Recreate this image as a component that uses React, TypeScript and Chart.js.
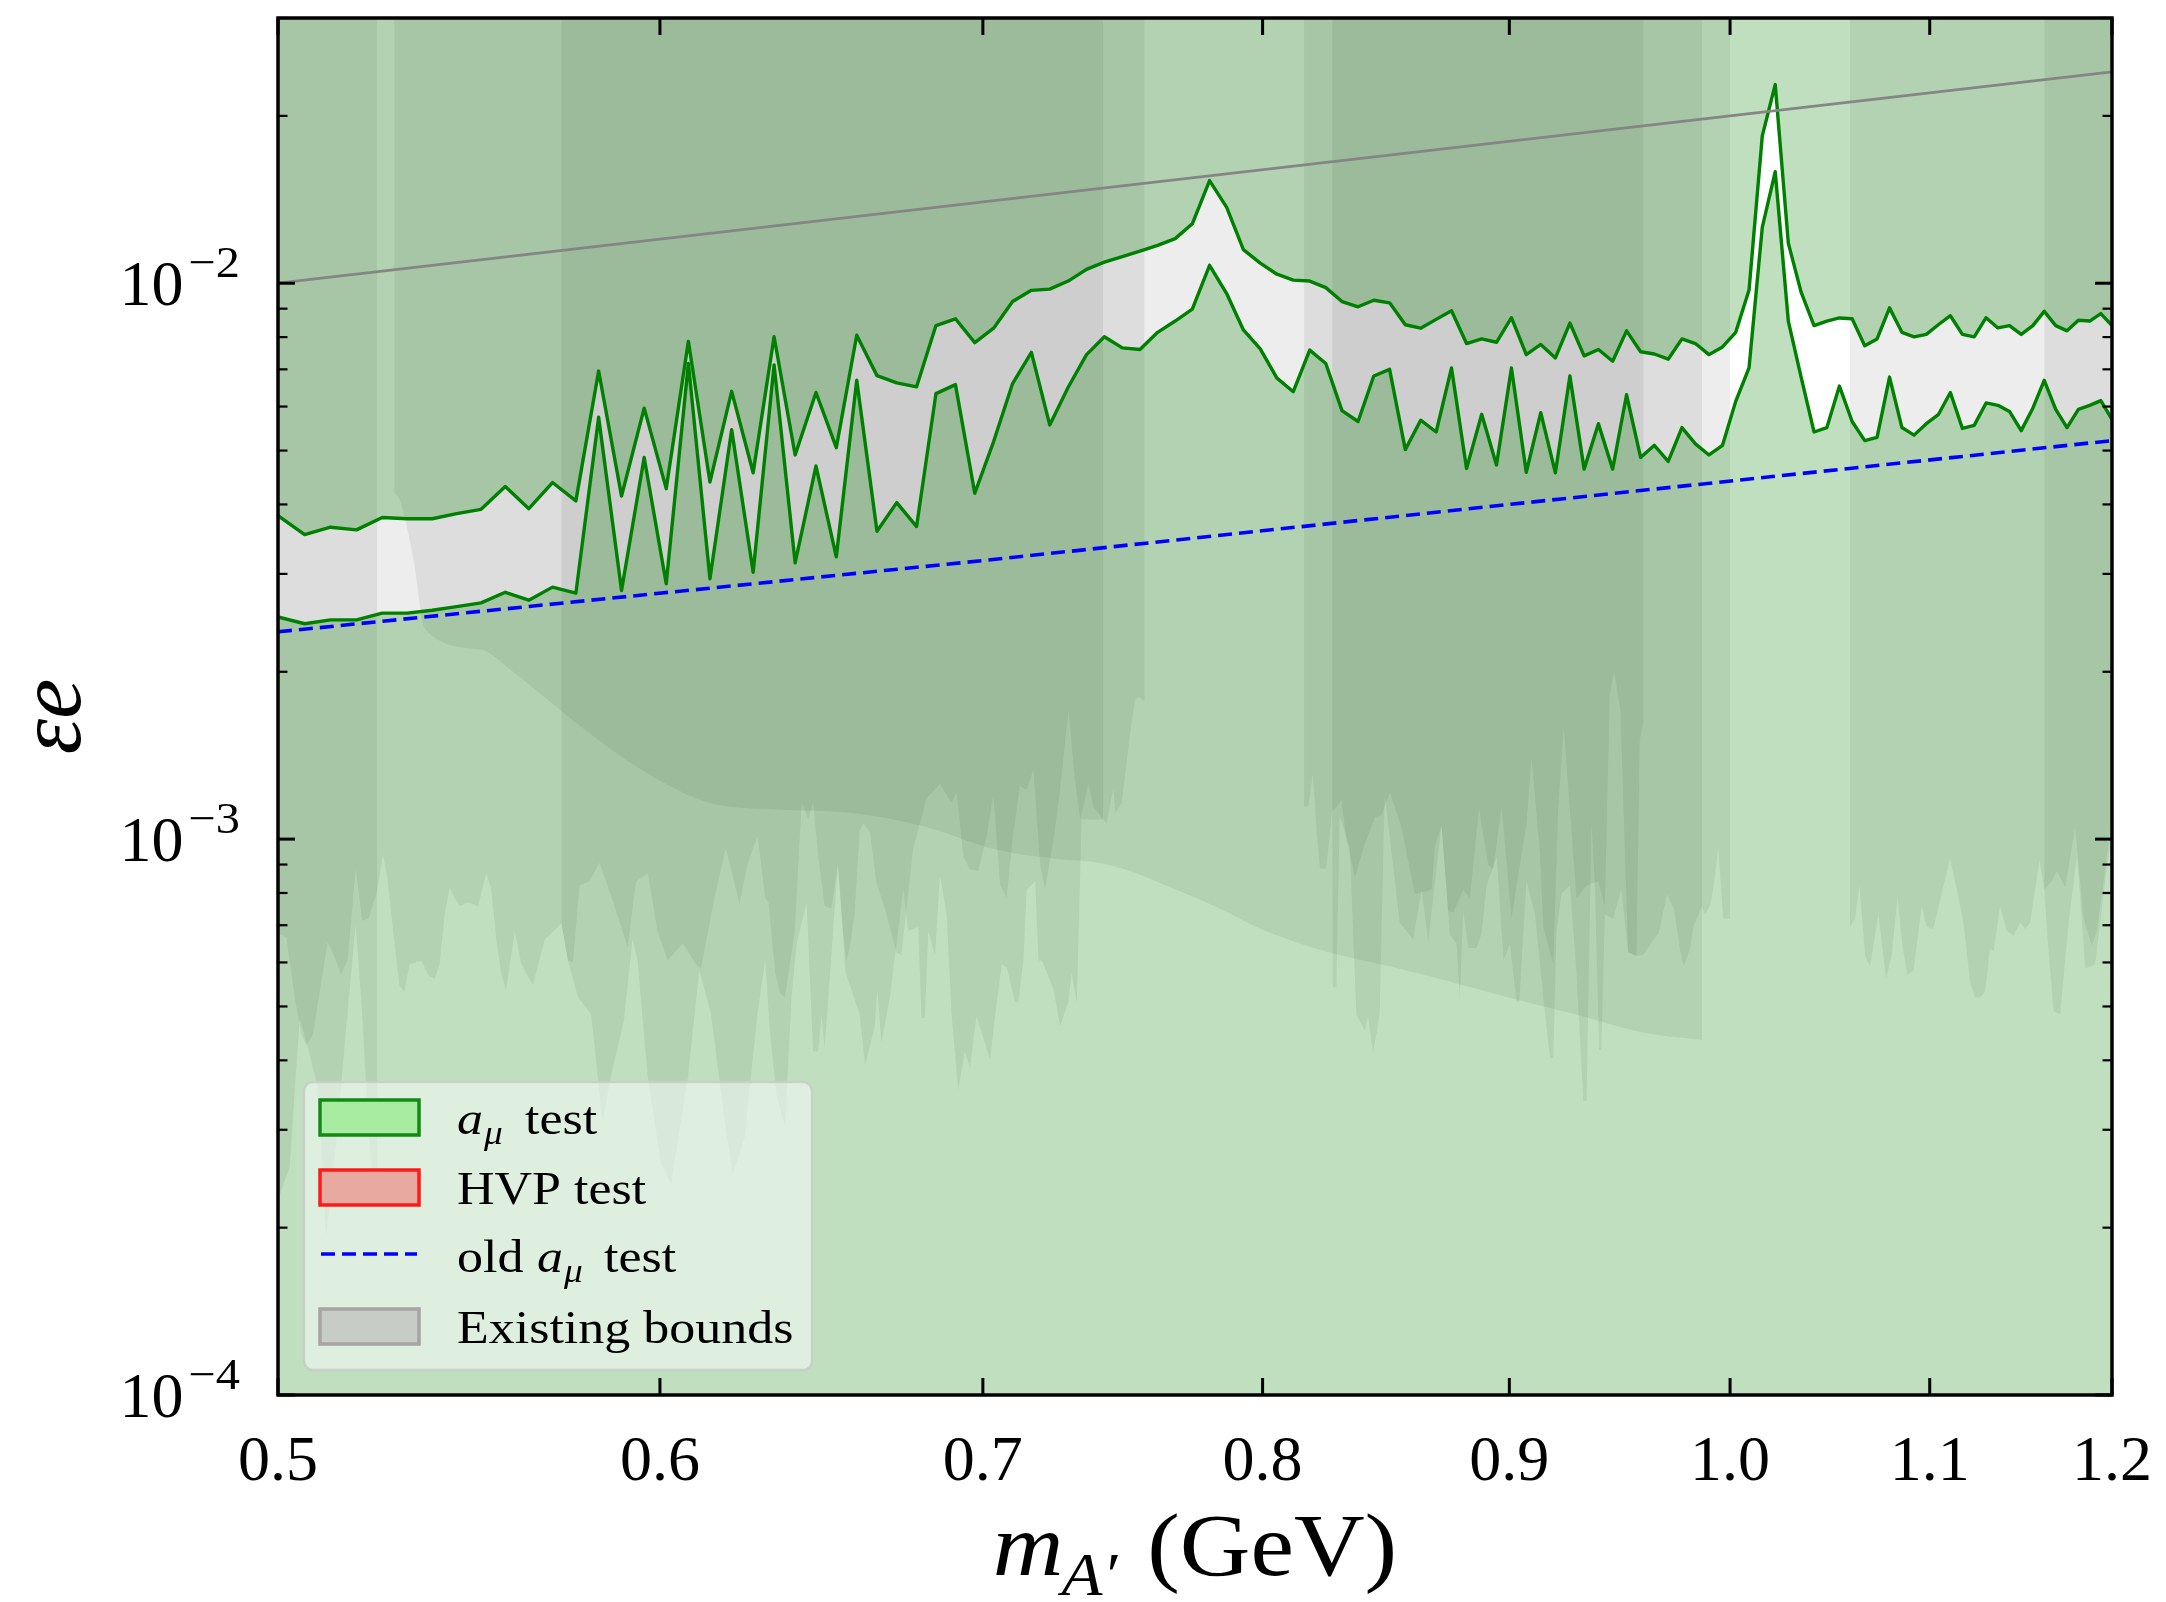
import React, { useEffect, useRef } from "react";
import { Chart, registerables } from "chart.js";

Chart.register(...registerables);

// ---------------- data ----------------
const massGrid = [
  0.5, 0.5064, 0.5127, 0.5191, 0.5255, 0.5318, 0.5382, 0.5445, 0.5509, 0.5573,
  0.5636, 0.57, 0.5764, 0.5827, 0.5891, 0.5955, 0.6018, 0.6082, 0.6145, 0.6209,
  0.6273, 0.6336, 0.64, 0.6464, 0.6527, 0.6591, 0.6655, 0.6718, 0.6782, 0.6845,
  0.6909, 0.6973, 0.7036, 0.71, 0.7164, 0.7227, 0.7291, 0.7355, 0.7418, 0.7482,
  0.7545, 0.7609, 0.7673, 0.7736, 0.78, 0.7864, 0.7927, 0.7991, 0.8055, 0.8118,
  0.8182, 0.8245, 0.8309, 0.8373, 0.8436, 0.85, 0.8564, 0.8627, 0.8691, 0.8755,
  0.8818, 0.8882, 0.8945, 0.9009, 0.9073, 0.9136, 0.92, 0.9264, 0.9327, 0.9391,
  0.9455, 0.9518, 0.9582, 0.9645, 0.9709, 0.9773, 0.9836, 0.99, 0.9964, 1.0027,
  1.0091, 1.0155, 1.0218, 1.0282, 1.0345, 1.0409, 1.0473, 1.0536, 1.06, 1.0664,
  1.0727, 1.0791, 1.0855, 1.0918, 1.0982, 1.1045, 1.1109, 1.1173, 1.1236, 1.13,
  1.1364, 1.1427, 1.1491, 1.1555, 1.1618, 1.1682, 1.1745, 1.1809, 1.1873, 1.1936,
  1.2,
];

const amuUpper = [
  3.82e-3, 3.53e-3, 3.64e-3, 3.6e-3, 3.79e-3, 3.77e-3, 3.77e-3, 3.85e-3, 3.92e-3, 4.31e-3,
  3.93e-3, 4.38e-3, 4.06e-3, 6.95e-3, 4.14e-3, 5.96e-3, 4.27e-3, 7.86e-3, 4.39e-3, 6.39e-3,
  4.56e-3, 8.01e-3, 4.91e-3, 6.36e-3, 5.06e-3, 8.06e-3, 6.82e-3, 6.62e-3, 6.51e-3, 8.39e-3,
  8.63e-3, 7.82e-3, 8.3e-3, 9.27e-3, 9.71e-3, 9.76e-3, 1.009e-2, 1.059e-2, 1.091e-2, 1.117e-2,
  1.142e-2, 1.17e-2, 1.203e-2, 1.279e-2, 1.53e-2, 1.369e-2, 1.149e-2, 1.087e-2, 1.038e-2, 1.013e-2,
  1.009e-2, 9.82e-3, 9.27e-3, 9.07e-3, 9.32e-3, 9.22e-3, 8.42e-3, 8.3e-3, 8.61e-3, 8.92e-3,
  7.79e-3, 7.94e-3, 7.83e-3, 8.67e-3, 7.44e-3, 7.76e-3, 7.34e-3, 8.48e-3, 7.4e-3, 7.6e-3,
  7.24e-3, 8.21e-3, 7.53e-3, 7.46e-3, 7.3e-3, 7.94e-3, 7.79e-3, 7.44e-3, 7.68e-3, 8.16e-3,
  9.72e-3, 1.841e-2, 2.277e-2, 1.181e-2, 9.64e-3, 8.39e-3, 8.55e-3, 8.66e-3, 8.63e-3, 7.72e-3,
  7.94e-3, 9.03e-3, 8.16e-3, 8.01e-3, 8.09e-3, 8.42e-3, 8.74e-3, 8.09e-3, 8.01e-3, 8.67e-3,
  8.31e-3, 8.39e-3, 8.09e-3, 8.39e-3, 8.9e-3, 8.39e-3, 8.21e-3, 8.58e-3, 8.55e-3, 8.82e-3,
  8.39e-3,
];

const amuLower = [
  2.51e-3, 2.44e-3, 2.48e-3, 2.48e-3, 2.55e-3, 2.55e-3, 2.58e-3, 2.62e-3, 2.66e-3, 2.78e-3,
  2.69e-3, 2.84e-3, 2.77e-3, 5.74e-3, 2.8e-3, 4.86e-3, 2.88e-3, 7.17e-3, 2.94e-3, 5.45e-3,
  3.02e-3, 7.13e-3, 3.14e-3, 4.69e-3, 3.22e-3, 6.69e-3, 3.58e-3, 4.03e-3, 3.65e-3, 6.33e-3,
  6.57e-3, 4.19e-3, 5.19e-3, 6.6e-3, 7.51e-3, 5.56e-3, 6.5e-3, 7.44e-3, 8.01e-3, 7.65e-3,
  7.6e-3, 8.16e-3, 8.55e-3, 8.98e-3, 1.077e-2, 9.58e-3, 8.24e-3, 7.62e-3, 6.75e-3, 6.38e-3,
  7.58e-3, 7.17e-3, 5.9e-3, 5.64e-3, 6.81e-3, 7.0e-3, 5.02e-3, 5.67e-3, 5.4e-3, 7.04e-3,
  4.64e-3, 5.81e-3, 4.71e-3, 7.04e-3, 4.57e-3, 5.85e-3, 4.56e-3, 6.81e-3, 4.63e-3, 5.59e-3,
  4.63e-3, 6.3e-3, 4.86e-3, 5.11e-3, 4.78e-3, 5.5e-3, 5.14e-3, 4.91e-3, 5.11e-3, 6.13e-3,
  7.04e-3, 1.26e-2, 1.587e-2, 8.55e-3, 6.78e-3, 5.4e-3, 5.5e-3, 6.53e-3, 5.64e-3, 5.21e-3,
  5.28e-3, 6.78e-3, 5.5e-3, 5.33e-3, 5.59e-3, 5.8e-3, 6.36e-3, 5.48e-3, 5.55e-3, 6.09e-3,
  6.03e-3, 5.88e-3, 5.43e-3, 5.96e-3, 6.69e-3, 5.93e-3, 5.5e-3, 5.93e-3, 6.03e-3, 6.15e-3,
  5.69e-3,
];

const oldAmuX = [0.5, 0.7, 0.9, 1.2];
const oldAmuY = [2.36e-3, 3.17e-3, 4.0e-3, 5.21e-3];

const refLineX = [0.5, 1.2];
const refLineY = [0.01, 0.024];

// existing bounds (each filled from its lower edge up to the top of the plot)
const boundSmooth = [
  [0.5285, 4.2e-3], [0.5299, 4.08e-3], [0.5333, 3.21e-3], [0.5363, 2.39e-3], [0.5509, 2.19e-3],
  [0.5589, 2.01e-3], [0.5724, 1.7e-3], [0.5862, 1.45e-3], [0.6004, 1.27e-3], [0.6149, 1.16e-3],
  [0.6347, 1.13e-3], [0.6601, 1.11e-3], [0.6815, 1.05e-3], [0.7035, 9.6e-4], [0.7262, 9.2e-4],
  [0.7379, 9.1e-4], [0.7498, 8.8e-4], [0.7679, 8.1e-4], [0.7864, 7.4e-4], [0.799, 6.9e-4],
  [0.8235, 6.3e-4], [0.8502, 5.9e-4], [0.8707, 5.6e-4], [0.8988, 5.2e-4], [0.9279, 4.85e-4],
  [0.958, 4.5e-4], [0.9867, 4.35e-4],
];

const boundA1 = [
  [0.5, 6.77e-4], [0.502, 6.65e-4], [0.504, 5.19e-4], [0.5056, 4.45e-4], [0.5068, 4.26e-4],
  [0.5084, 4.45e-4], [0.51, 5.28e-4], [0.512, 6.54e-4], [0.514, 6.05e-4], [0.5152, 5.7e-4],
  [0.5169, 6.05e-4], [0.5189, 8.83e-4], [0.5205, 7.13e-4], [0.5221, 7.19e-4], [0.5243, 8.11e-4],
  [0.5257, 9.38e-4], [0.5269, 8.39e-4], [0.5286, 6.49e-4], [0.5298, 5.46e-4], [0.5311, 5.32e-4],
  [0.5324, 5.95e-4], [0.5354, 6.05e-4], [0.5371, 5.7e-4], [0.5388, 5.6e-4], [0.5401, 5.95e-4],
  [0.5414, 7.31e-4], [0.5427, 8.18e-4], [0.544, 7.83e-4], [0.5453, 7.57e-4], [0.5474, 7.7e-4],
  [0.5501, 7.57e-4], [0.5523, 8.68e-4], [0.5536, 8.11e-4], [0.5549, 6.6e-4], [0.5562, 5.75e-4],
  [0.5575, 5.32e-4], [0.5598, 6.83e-4], [0.5616, 5.95e-4], [0.5647, 5.46e-4], [0.5679, 6.6e-4],
  [0.5715, 6.95e-4], [0.5724, 7.07e-4], [0.5742, 6.05e-4], [0.5756, 6.0e-4], [0.5774, 8.25e-4],
  [0.5801, 8.39e-4], [0.5829, 9.07e-4], [0.5852, 8.25e-4], [0.5894, 6.83e-4], [0.5908, 6.37e-4],
  [0.5932, 8.39e-4], [0.5965, 8.68e-4], [0.5993, 6.83e-4], [0.6022, 6.05e-4], [0.6066, 6.49e-4],
  [0.6104, 5.95e-4], [0.6119, 5.85e-4], [0.6158, 7.83e-4], [0.6192, 9.63e-4], [0.6232, 7.64e-4],
  [0.6256, 8.99e-4], [0.6286, 1.013e-3], [0.6299, 8.83e-4], [0.6309, 7.83e-4], [0.6319, 7.7e-4],
  [0.6339, 5.75e-4], [0.6354, 5.28e-4], [0.6369, 5.19e-4], [0.6384, 5.95e-4], [0.6399, 6.83e-4],
  [0.642, 1.163e-3], [0.644, 1.085e-3], [0.6455, 1.163e-3], [0.6471, 9.3e-4], [0.6491, 7.57e-4],
  [0.6512, 7.5e-4], [0.6532, 8.99e-4], [0.6548, 6.83e-4], [0.6558, 6.05e-4], [0.6569, 6.37e-4],
  [0.6584, 7.31e-4], [0.66, 1.031e-3], [0.6611, 1.067e-3], [0.6632, 1.031e-3], [0.6653, 8.39e-4],
  [0.6685, 7.31e-4], [0.6717, 6.26e-4], [0.6733, 6.16e-4], [0.6771, 9.63e-4], [0.6814, 1.183e-3],
  [0.6858, 1.256e-3], [0.6896, 1.163e-3], [0.6913, 1.214e-3], [0.6935, 9.3e-4], [0.6957, 8.83e-4],
  [0.6985, 8.76e-4], [0.7013, 1.013e-3], [0.7035, 1.204e-3], [0.7058, 8.25e-4], [0.708, 7.83e-4],
  [0.7103, 1.031e-3], [0.7125, 1.246e-3], [0.7148, 1.225e-3], [0.7171, 1.334e-3], [0.7194, 8.99e-4],
  [0.7211, 8.11e-4], [0.724, 9.97e-4], [0.7263, 1.225e-3], [0.7292, 1.71e-3], [0.7315, 1.267e-3],
  [0.7333, 1.085e-3], [0.7362, 1.256e-3], [0.7379, 1.143e-3], [0.7414, 1.085e-3], [0.7426, 1.067e-3],
  [0.745, 1.235e-3], [0.7456, 1.113e-3], [0.748, 1.163e-3], [0.751, 1.556e-3], [0.7528, 1.786e-3],
  [0.754, 1.8e-3], [0.7562, 1.771e-3],
];

const boundA2 = [
  [0.816, 1.143e-3], [0.8177, 1.143e-3], [0.8194, 1.311e-3], [0.8209, 1.031e-3], [0.8222, 8.86e-4],
  [0.8246, 8.83e-4], [0.8259, 9.97e-4], [0.827, 1.123e-3], [0.8281, 1.133e-3], [0.8307, 1.173e-3],
  [0.8327, 9.97e-4], [0.836, 8.54e-4], [0.84, 9.79e-4], [0.844, 1.095e-3], [0.8467, 1.104e-3],
  [0.8501, 1.214e-3], [0.8548, 1.049e-3], [0.8603, 7.97e-4], [0.8672, 8.11e-4], [0.8686, 9.71e-4],
  [0.8713, 1.058e-3], [0.8741, 7.44e-4], [0.8762, 7.37e-4], [0.8804, 8.11e-4], [0.8832, 7.83e-4],
  [0.8871, 1.133e-3], [0.891, 8.99e-4], [0.8931, 8.83e-4], [0.8967, 1.143e-3], [0.9009, 7.19e-4],
  [0.9074, 1.067e-3], [0.9096, 1.404e-3], [0.9132, 9.46e-4], [0.9147, 6.95e-4], [0.9191, 5.95e-4],
  [0.9212, 1.123e-3], [0.9237, 1.597e-3], [0.9264, 1.123e-3], [0.9293, 7.83e-4], [0.9338, 8.25e-4],
  [0.939, 8.39e-4], [0.942, 7.57e-4], [0.9442, 1.817e-3], [0.9462, 2.01e-3], [0.949, 1.696e-3],
  [0.9525, 6.26e-4], [0.9563, 6.16e-4], [0.9596, 6.2e-4], [0.9634, 6.54e-4], [0.9665, 6.77e-4],
  [0.9704, 7.97e-4], [0.9735, 7.5e-4], [0.9766, 6.26e-4], [0.9781, 5.9e-4], [0.9812, 6.37e-4],
  [0.9826, 6.95e-4], [0.9866, 7.57e-4], [0.9881, 7.31e-4], [0.9904, 7.57e-4], [0.992, 8.11e-4],
  [0.9944, 9.63e-4], [0.9967, 7.19e-4], [1.0, 7.19e-4],
];

const boundA3 = [
  [1.0589, 6.95e-4], [1.0615, 7.19e-4], [1.0637, 8.25e-4], [1.0666, 6.16e-4], [1.0691, 5.9e-4],
  [1.0734, 7.31e-4], [1.0773, 5.6e-4], [1.0802, 6.16e-4], [1.0832, 7.83e-4], [1.0859, 6.37e-4],
  [1.0883, 5.7e-4], [1.0915, 5.8e-4], [1.0958, 7.57e-4], [1.0984, 6.95e-4], [1.1019, 6.89e-4],
  [1.1107, 9.22e-4], [1.1143, 8.11e-4], [1.1178, 7.07e-4], [1.1214, 5.53e-4], [1.1241, 5.19e-4],
  [1.1268, 5.19e-4], [1.1295, 5.32e-4], [1.1322, 6.37e-4], [1.134, 6.26e-4], [1.1376, 7.57e-4],
  [1.1412, 6.83e-4], [1.1449, 6.71e-4], [1.1485, 7.07e-4], [1.1513, 6.89e-4], [1.154, 7.07e-4],
  [1.1592, 9.14e-4], [1.1618, 8.11e-4], [1.1642, 6.26e-4], [1.167, 4.89e-4], [1.1707, 4.84e-4],
  [1.1754, 7.07e-4], [1.1801, 9.3e-4], [1.1848, 5.85e-4], [1.1904, 5.95e-4], [1.1961, 8.39e-4],
  [1.2, 1.031e-3],
];

const boundB1 = [
  [0.5, 2.24e-4], [0.5028, 2.57e-4], [0.5052, 4.76e-4], [0.5072, 4.22e-4], [0.5096, 3.56e-4],
  [0.5116, 1.92e-4], [0.514, 2.8e-4], [0.5164, 4.45e-4], [0.5189, 7.01e-4], [0.5205, 4.84e-4],
  [0.5225, 2.66e-4], [0.5243, 2.36e-4],
];

const boundB2 = [
  [0.5724, 7.07e-4], [0.5742, 6.05e-4], [0.577, 5.19e-4], [0.5806, 4.84e-4], [0.5838, 3.1e-4],
  [0.5861, 3.74e-4], [0.5898, 4.72e-4], [0.5922, 6.6e-4], [0.5936, 6.05e-4], [0.5965, 3.74e-4],
  [0.6003, 2.6e-4], [0.6032, 2.4e-4], [0.6081, 3.74e-4], [0.6114, 5.8e-4], [0.6148, 4.84e-4],
  [0.6187, 3.15e-4], [0.6212, 2.5e-4], [0.6247, 2.89e-4], [0.6286, 4.84e-4], [0.6309, 6.05e-4],
  [0.6324, 4.45e-4], [0.6344, 3.44e-4], [0.6369, 3.05e-4], [0.6389, 5.19e-4], [0.6405, 6.49e-4],
  [0.6435, 7.7e-4], [0.6455, 4.15e-4], [0.6471, 4.15e-4], [0.6481, 4.8e-4], [0.6491, 4.19e-4],
  [0.6532, 8.99e-4], [0.6556, 5.75e-4], [0.66, 4.84e-4], [0.6617, 3.91e-4], [0.6648, 4.6e-4],
  [0.6656, 5.37e-4], [0.6669, 4.3e-4], [0.6696, 5.19e-4], [0.6739, 8.11e-4], [0.6755, 6.83e-4],
  [0.6787, 6.95e-4], [0.6798, 4.76e-4], [0.6809, 4.76e-4], [0.682, 6.83e-4], [0.6842, 6.16e-4],
  [0.6858, 8.61e-4], [0.688, 7.31e-4], [0.6896, 4.84e-4], [0.6918, 3.53e-4], [0.694, 4.15e-4],
  [0.6957, 3.88e-4], [0.6979, 4.8e-4], [0.7024, 4.01e-4], [0.7047, 5.1e-4], [0.7064, 5.95e-4],
  [0.708, 5.88e-4], [0.7108, 5.1e-4], [0.712, 5.1e-4], [0.7137, 6.05e-4], [0.7148, 8.11e-4],
  [0.7177, 8.39e-4], [0.7188, 6.05e-4], [0.72, 6.05e-4], [0.724, 5.37e-4], [0.7263, 4.6e-4],
  [0.7292, 5.1e-4], [0.7303, 5.75e-4], [0.7321, 5.06e-4], [0.7338, 1.085e-3], [0.7414, 1.085e-3],
];

const boundB3 = [
  [0.827, 1.123e-3], [0.8272, 5.41e-4], [0.8287, 5.41e-4], [0.83, 1.1e-3], [0.834, 9.63e-4],
  [0.8366, 4.84e-4], [0.84, 4.52e-4], [0.8413, 4.8e-4], [0.8433, 4.11e-4], [0.846, 4.84e-4],
  [0.848, 1.204e-3], [0.8541, 7.07e-4], [0.8596, 6.6e-4], [0.8631, 8.11e-4], [0.8658, 6.54e-4],
  [0.8713, 1.058e-3], [0.8748, 6.72e-4], [0.8776, 6.49e-4], [0.879, 5.14e-4], [0.8804, 7.44e-4],
  [0.8825, 6.37e-4], [0.886, 6.37e-4], [0.8882, 6.77e-4], [0.8903, 8.25e-4], [0.8946, 9.3e-4],
  [0.8975, 6.05e-4], [0.9002, 6.49e-4], [0.9031, 5.1e-4], [0.9043, 5.1e-4], [0.9074, 8.39e-4],
  [0.9111, 7.31e-4], [0.9147, 5.19e-4], [0.9176, 4.04e-4], [0.9191, 4.04e-4], [0.9205, 6.83e-4],
  [0.9227, 7.97e-4], [0.9264, 8.25e-4], [0.9293, 5.75e-4], [0.9323, 3.38e-4], [0.9338, 3.38e-4],
  [0.936, 1.067e-3], [0.9375, 8.25e-4], [0.9394, 4.18e-4], [0.9404, 4.18e-4], [0.942, 7.31e-4],
  [0.9457, 7.19e-4], [0.9494, 8.11e-4], [0.9525, 6.26e-4], [0.9563, 6.16e-4], [0.9578, 1.504e-3],
  [0.9596, 1.638e-3],
];

const boundB4 = [
  [1.1618, 8.11e-4], [1.166, 8.39e-4], [1.1688, 8.76e-4], [1.1735, 8.18e-4], [1.1791, 1.049e-3],
  [1.1838, 7.19e-4], [1.1885, 6.43e-4], [1.1913, 6.83e-4], [1.1961, 8.83e-4], [1.2, 1.104e-3],
];

const xTickValues = [0.5, 0.6, 0.7, 0.8, 0.9, 1.0, 1.1, 1.2];
const xTickLabels = ["0.5", "0.6", "0.7", "0.8", "0.9", "1.0", "1.1", "1.2"];
const yMajorValues = [1e-4, 1e-3, 1e-2];
const yMajorExponents = ["\u22124", "\u22123", "\u22122"];

// ---------------- styling ----------------
const SERIF = '"Liberation Serif", "Times New Roman", serif';
const BOUND_FILL = "rgba(0,0,0,0.07)";
const GREEN_FILL = "rgba(0,128,0,0.25)";

function drawText(
  ctx: CanvasRenderingContext2D,
  text: string,
  x: number,
  y: number,
  font: string,
  align: "left" | "center" | "right" = "left",
  sx = 1
) {
  ctx.save();
  ctx.font = font;
  const w = ctx.measureText(text).width * sx;
  let x0 = x;
  if (align === "center") x0 = x - w / 2;
  else if (align === "right") x0 = x - w;
  ctx.translate(x0, y);
  ctx.scale(sx, 1);
  ctx.textAlign = "left";
  ctx.textBaseline = "alphabetic";
  ctx.fillText(text, 0, 0);
  ctx.restore();
  return w;
}

function measure(ctx: CanvasRenderingContext2D, text: string, font: string, sx = 1) {
  ctx.save();
  ctx.font = font;
  const w = ctx.measureText(text).width * sx;
  ctx.restore();
  return w;
}

const overlayPlugin = {
  id: "overlay",
  afterDraw(chart: any) {
    const ctx: CanvasRenderingContext2D = chart.ctx;
    const ca = chart.chartArea;
    const xs = chart.scales.x;
    const ys = chart.scales.y;
    ctx.save();
    ctx.fillStyle = "#000";
    ctx.strokeStyle = "#000";
    ctx.lineCap = "butt";
    const seg = (x1: number, y1: number, x2: number, y2: number, w: number) => {
      ctx.lineWidth = w;
      ctx.beginPath();
      ctx.moveTo(x1, y1);
      ctx.lineTo(x2, y2);
      ctx.stroke();
    };
    const MAJ = 17;
    const MIN = 9.5;

    // x ticks + labels
    xTickValues.forEach((v, i) => {
      const px = xs.getPixelForValue(v);
      seg(px, ca.bottom, px, ca.bottom - MAJ, 3);
      seg(px, ca.top, px, ca.top + MAJ, 3);
      drawText(ctx, xTickLabels[i], px, ca.bottom + 85, `64px ${SERIF}`, "center", 1.0);
    });

    // y ticks
    for (let d = -4; d <= -2; d++) {
      for (let m = 1; m <= 9; m++) {
        const v = m * Math.pow(10, d);
        if (v > 0.0300001) continue;
        const py = ys.getPixelForValue(v);
        const len = m === 1 ? MAJ : MIN;
        const w = m === 1 ? 3 : 2.2;
        seg(ca.left, py, ca.left + len, py, w);
        seg(ca.right, py, ca.right - len, py, w);
      }
    }
    // y labels 10^{-n}
    yMajorValues.forEach((v, i) => {
      const py = ys.getPixelForValue(v);
      const right = ca.left - 38;
      const supFont = `44px ${SERIF}`;
      const supW = measure(ctx, yMajorExponents[i], supFont, 1.1);
      drawText(ctx, yMajorExponents[i], right, py - 6, supFont, "right", 1.1);
      drawText(ctx, "10", right - supW - 5, py + 22, `64px ${SERIF}`, "right", 1.0);
    });

    // frame
    ctx.lineWidth = 3.5;
    ctx.strokeRect(ca.left, ca.top, ca.right - ca.left, ca.bottom - ca.top);

    // x axis title: m_{A'} (GeV)
    {
      const sx = 1.1;
      const fMain = `italic 89px ${SERIF}`;
      const fSub = `italic 61px ${SERIF}`;
      const fUp = `89px ${SERIF}`;
      const wM = measure(ctx, "m", fMain, sx);
      const wA = measure(ctx, "A\u2032", fSub, sx);
      const wG = measure(ctx, "(GeV)", fUp, sx);
      const gap = 28;
      const total = wM + wA + gap + wG;
      let x0 = (ca.left + ca.right) / 2 - total / 2;
      const base = ca.bottom + 180;
      drawText(ctx, "m", x0, base, fMain, "left", sx);
      x0 += wM;
      drawText(ctx, "A\u2032", x0 - 2, base + 20, fSub, "left", sx);
      x0 += wA + gap;
      drawText(ctx, "(GeV)", x0, base, fUp, "left", sx);
    }

    // y axis title: εe
    {
      ctx.save();
      ctx.translate(80, (ca.top + ca.bottom) / 2 + 10);
      ctx.rotate(-Math.PI / 2);
      drawText(ctx, "\u03B5e", 0, 0, `italic 90px ${SERIF}`, "center", 1.0);
      ctx.restore();
    }

    // legend
    {
      const lx = 304, ly = 1082, lw = 508, lh = 288;
      ctx.save();
      ctx.beginPath();
      (ctx as any).roundRect(lx, ly, lw, lh, 9);
      ctx.fillStyle = "rgba(255,255,255,0.5)";
      ctx.fill();
      ctx.strokeStyle = "rgba(200,205,200,0.9)";
      ctx.lineWidth = 2.5;
      ctx.stroke();
      ctx.restore();

      const px = 320, pw = 99, ph = 35;
      const rows = [1134, 1204, 1272, 1343];
      const fText = `46px ${SERIF}`;
      const fIt = `italic 46px ${SERIF}`;
      const fSubIt = `italic 33px ${SERIF}`;
      const tx = 457;
      const sx = 1.13;

      const patch = (cy: number, fill: string, edge: string) => {
        ctx.save();
        ctx.fillStyle = fill;
        ctx.strokeStyle = edge;
        ctx.lineWidth = 3.5;
        ctx.fillRect(px, cy - ph + 1, pw, ph);
        ctx.strokeRect(px, cy - ph + 1, pw, ph);
        ctx.restore();
      };
      // row 1: a_mu test
      patch(rows[0], "#a8eca2", "#138a13");
      ctx.fillStyle = "#000";
      let x = tx;
      x += drawText(ctx, "a", x, rows[0], fIt, "left", sx);
      drawText(ctx, "\u03BC", x + 1, rows[0] + 10, fSubIt, "left", sx);
      drawText(ctx, "test", 525, rows[0], fText, "left", sx);
      // row 2: HVP test
      patch(rows[1], "#e8a9a0", "#ff1a1a");
      ctx.fillStyle = "#000";
      drawText(ctx, "HVP test", tx, rows[1], fText, "left", sx);
      // row 3: old a_mu test
      ctx.save();
      ctx.strokeStyle = "#0000ff";
      ctx.lineWidth = 3.6;
      ctx.setLineDash([14, 7]);
      ctx.beginPath();
      ctx.moveTo(px + 1, rows[2] - 18);
      ctx.lineTo(px + pw - 2, rows[2] - 18);
      ctx.stroke();
      ctx.restore();
      ctx.fillStyle = "#000";
      drawText(ctx, "old", tx, rows[2], fText, "left", sx);
      x = 537;
      x += drawText(ctx, "a", x, rows[2], fIt, "left", sx);
      drawText(ctx, "\u03BC", x + 1, rows[2] + 10, fSubIt, "left", sx);
      drawText(ctx, "test", 604, rows[2], fText, "left", sx);
      // row 4: Existing bounds
      patch(rows[3], "#c8ccc6", "#a8a4a4");
      ctx.fillStyle = "#000";
      drawText(ctx, "Existing bounds", tx, rows[3], fText, "left", sx);
    }
    ctx.restore();
  },
};

export default function App() {
  const ref = useRef<HTMLCanvasElement>(null);

  useEffect(() => {
    document.body.style.margin = "0";
    document.body.style.overflow = "hidden";
    const canvas = ref.current;
    if (!canvas) return;

    const pairPts = (arr: number[][]) => arr.map(([x, y]) => ({ x, y }));
    const gridPts = (vals: number[]) => massGrid.map((x, i) => ({ x, y: vals[i] }));
    const xyPts = (xs: number[], yv: number[]) => xs.map((x, i) => ({ x, y: yv[i] }));

    const boundSet = (arr: number[][], smooth = false) => ({
      data: pairPts(arr),
      fill: "end",
      backgroundColor: BOUND_FILL,
      borderColor: "rgba(0,0,0,0)",
      borderWidth: 0,
      pointRadius: 0,
      cubicInterpolationMode: smooth ? "monotone" : "default",
      tension: 0,
      order: 10,
    });

    const chart = new Chart(canvas, {
      type: "line",
      data: {
        datasets: [
          {
            label: "old a_mu test",
            data: xyPts(oldAmuX, oldAmuY),
            borderColor: "#0000ff",
            borderWidth: 3.6,
            borderDash: [14, 7],
            fill: false,
            pointRadius: 0,
            order: 1,
          },
          {
            label: "reference",
            data: xyPts(refLineX, refLineY),
            borderColor: "#858585",
            borderWidth: 2.8,
            fill: false,
            pointRadius: 0,
            order: 2,
          },
          {
            label: "a_mu upper",
            data: gridPts(amuUpper),
            fill: "end",
            backgroundColor: GREEN_FILL,
            borderColor: "#008000",
            borderWidth: 3.4,
            pointRadius: 0,
            order: 5,
          },
          {
            label: "a_mu lower",
            data: gridPts(amuLower),
            fill: "start",
            backgroundColor: GREEN_FILL,
            borderColor: "#008000",
            borderWidth: 3.4,
            pointRadius: 0,
            order: 5,
          },
          boundSet(boundSmooth, true),
          boundSet(boundA1),
          boundSet(boundA2),
          boundSet(boundA3),
          boundSet(boundB1),
          boundSet(boundB2),
          boundSet(boundB3),
          boundSet(boundB4),
        ] as any,
      },
      options: {
        animation: false,
        responsive: false,
        devicePixelRatio: 1,
        events: [],
        layout: { padding: { left: 278, top: 18, right: 54, bottom: 207 } },
        elements: { line: { tension: 0, borderJoinStyle: "round" } },
        scales: {
          x: { type: "logarithmic", min: 0.5, max: 1.2, display: false },
          y: { type: "logarithmic", min: 1e-4, max: 0.03, display: false },
        },
        plugins: {
          legend: { display: false },
          tooltip: { enabled: false },
        },
      } as any,
      plugins: [overlayPlugin],
    });
    return () => chart.destroy();
  }, []);

  return (
    <div style={{ position: "absolute", left: 0, top: 0, width: 2166, height: 1602 }}>
      <canvas ref={ref} width={2166} height={1602} style={{ width: 2166, height: 1602, display: "block" }} />
    </div>
  );
}
